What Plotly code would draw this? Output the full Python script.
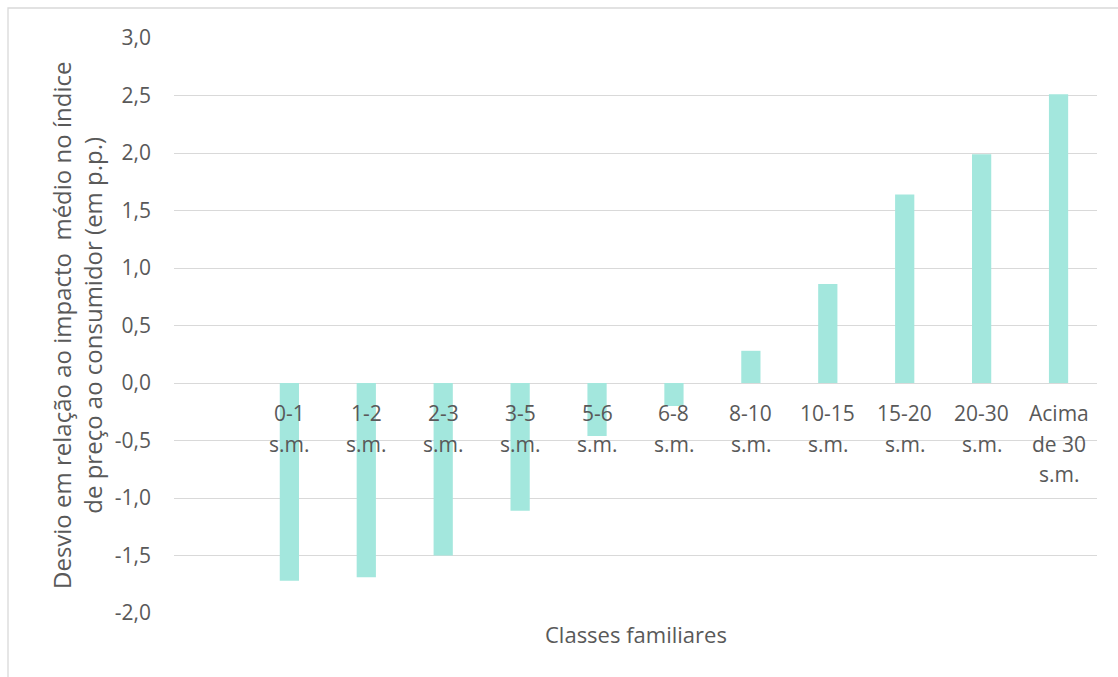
import plotly.graph_objects as go

categories = ["0-1 s.m.", "1-2 s.m.", "2-3 s.m.", "3-5 s.m.", "5-6 s.m.", "6-8 s.m.",
              "8-10 s.m.", "10-15 s.m.", "15-20 s.m.", "20-30 s.m.", "Acima de 30 s.m."]
label_lines = [["0-1", "s.m."], ["1-2", "s.m."], ["2-3", "s.m."], ["3-5", "s.m."],
               ["5-6", "s.m."], ["6-8", "s.m."], ["8-10", "s.m."], ["10-15", "s.m."],
               ["15-20", "s.m."], ["20-30", "s.m."], ["Acima", "de 30", "s.m."]]
values = [-1.72, -1.69, -1.50, -1.11, -0.46, -0.20, 0.28, 0.86, 1.64, 1.99, 2.51]
y_ticks = [-2.0, -1.5, -1.0, -0.5, 0.0, 0.5, 1.0, 1.5, 2.0, 2.5, 3.0]

FONT = "Open Sans"
TXT = "#595959"
GRID = "#d9d9d9"

positions = [i + 1 for i in range(len(categories))]
tick_text = [f"{v:.1f}".replace(".", ",") for v in y_ticks]

fig = go.Figure()
fig.add_trace(go.Bar(
    x=positions, y=values, width=0.25,
    marker=dict(color="#a3e7dd", line=dict(width=0)),
    hovertext=categories, showlegend=False,
))

W, H = 1118, 677
ml, mr, mt, mb = 174, 21, 38, 64
pw, ph = W - ml - mr, H - mt - mb

def px_x(p):
    return (p - ml) / pw

def px_y(p):
    return (H - mb - p) / ph

annotations = []
for pos, lines in zip(positions, label_lines):
    for j, line in enumerate(lines):
        annotations.append(dict(
            x=pos, y=0, xref="x", yref="y", text=line, showarrow=False,
            xanchor="center", yanchor="middle", yshift=-(30 + 30.5 * j),
            font=dict(family=FONT, size=21, color=TXT),
        ))

annotations.append(dict(
    x=px_x(636), y=px_y(634), xref="paper", yref="paper", text="Classes familiares",
    showarrow=False, xanchor="center", yanchor="middle",
    font=dict(family=FONT, size=22, color=TXT),
))
annotations.append(dict(
    x=px_x(77), y=px_y(326), xref="paper", yref="paper",
    text="Desvio em relação ao impacto  médio no índice<br>de preço ao consumidor (em p.p.)",
    showarrow=False, xanchor="center", yanchor="middle", textangle=-90,
    font=dict(family=FONT, size=24, color=TXT), align="center",
))

fig.update_layout(
    width=W, height=H,
    margin=dict(l=ml, r=mr, t=mt, b=mb),
    paper_bgcolor="white", plot_bgcolor="white",
    annotations=annotations,
    shapes=[dict(type="rect", xref="paper", yref="paper",
                 x0=px_x(8), x1=px_x(1140), y0=px_y(700), y1=px_y(8),
                 line=dict(color=GRID, width=1.3), fillcolor="rgba(0,0,0,0)", layer="below")],
    xaxis=dict(range=[-0.5, len(categories) + 0.5], showticklabels=False, showgrid=False,
               zeroline=False, showline=False, fixedrange=True),
    yaxis=dict(range=[-2.0, 3.0], tickvals=y_ticks, ticktext=tick_text,
               showgrid=True, gridcolor=GRID, gridwidth=1.3,
               zeroline=True, zerolinecolor=GRID, zerolinewidth=1.3,
               showline=False, ticks="", ticklabelstandoff=22,
               tickfont=dict(family=FONT, size=21, color=TXT)),
)

fig.write_html("out.html")
